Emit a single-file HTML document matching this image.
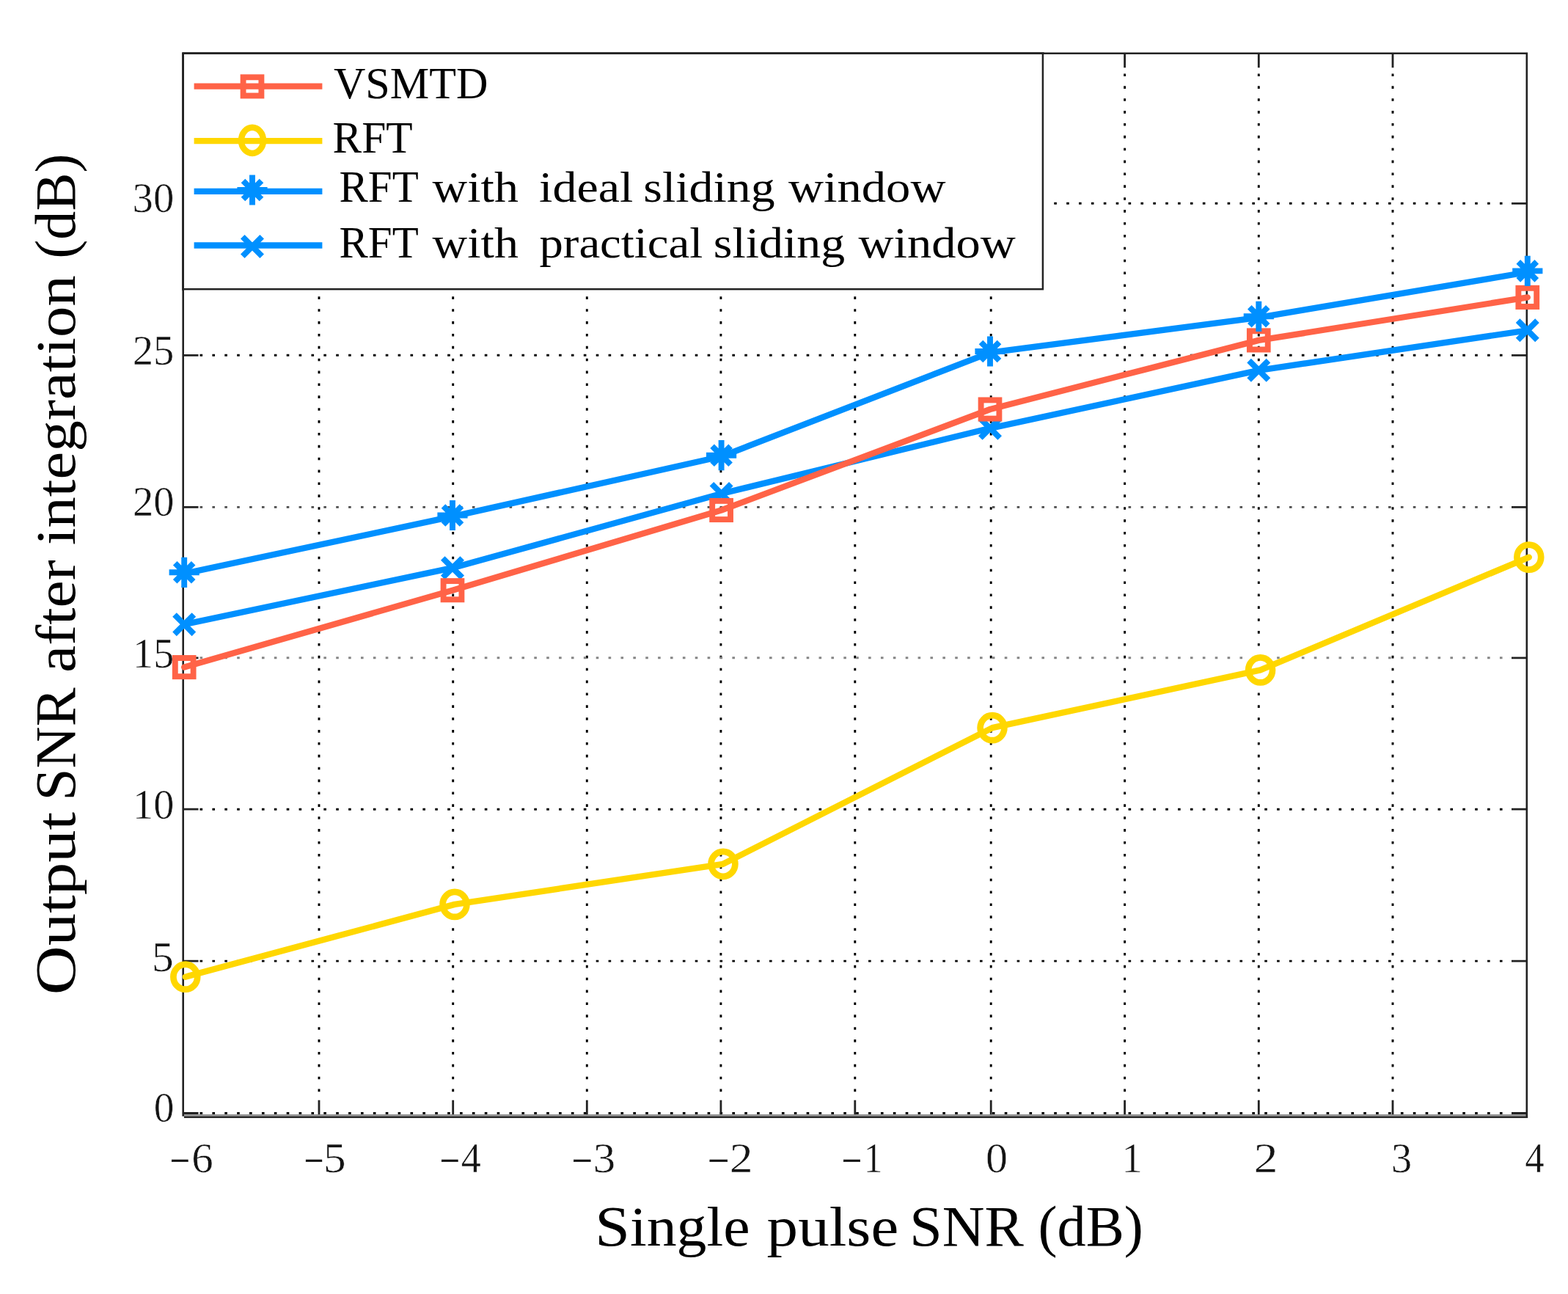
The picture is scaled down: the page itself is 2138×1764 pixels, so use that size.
<!DOCTYPE html>
<html lang="en"><head><meta charset="utf-8"><title>Figure</title>
<style>
html,body{margin:0;padding:0;background:#fff}
svg{display:block}
text{font-family:"Liberation Serif","DejaVu Serif",serif;font-kerning:none;fill:#1a1a1a}
.tk{fill:#141414;stroke:#fff;stroke-width:0.5px;paint-order:fill stroke}.lg,.ti{fill:#000}
.tk .mn{stroke:#141414;stroke-width:.5px}
.tk{font-size:56.3px}.lg{font-size:62.3px}.ti{font-size:79px}
.g{stroke:#000000;stroke-width:2.9;stroke-dasharray:3.6 13.28;fill:none}
.ax{stroke:#222222;stroke-width:2.6;fill:none}
.r{stroke:#ff6347}.y{stroke:#ffd700}.b{stroke:#0090ff}
.ln{fill:none;stroke-width:8.35;stroke-linejoin:round;stroke-linecap:round}
.mk{fill:none;stroke-width:7.9;stroke-linecap:butt;stroke-linejoin:miter}
</style></head><body>
<svg width="2138" height="1764" viewBox="0 0 2138 1764" style="filter:blur(0.6px)">
<rect x="-20" y="-20" width="2178" height="1804" fill="#fff"/>
<defs>
<g id="ms"><rect x="-12.4" y="-12.6" width="24.8" height="25.2"/></g>
<g id="mo"><ellipse rx="16.4" ry="17" style="stroke-width:8.7px"/></g>
<g id="ml"><ellipse rx="15" ry="17.6" style="stroke-width:8.4px"/></g>
<path id="mx" d="M-13.2 -13.2L13.2 13.2M-13.2 13.2L13.2 -13.2"/>
<path id="ma" d="M-20.6 0H20.6M0 -20.6V20.6M-12.5 -12.5L12.5 12.5M-12.5 12.5L12.5 -12.5"/>
</defs>
<g class="g">
<line x1="435" y1="1497" x2="435" y2="93.3" stroke-dashoffset="8.08"/>
<line x1="617.7" y1="1497" x2="617.7" y2="93.3" stroke-dashoffset="8.08"/>
<line x1="800.3" y1="1497" x2="800.3" y2="93.3" stroke-dashoffset="8.08"/>
<line x1="982.9" y1="1497" x2="982.9" y2="93.3" stroke-dashoffset="8.08"/>
<line x1="1165.8" y1="1497" x2="1165.8" y2="93.3" stroke-dashoffset="8.08"/>
<line x1="1351.2" y1="1497" x2="1351.2" y2="93.3" stroke-dashoffset="8.08"/>
<line x1="1533.6" y1="1497" x2="1533.6" y2="93.3" stroke-dashoffset="8.08"/>
<line x1="1716.3" y1="1497" x2="1716.3" y2="93.3" stroke-dashoffset="8.08"/>
<line x1="1899" y1="1497" x2="1899" y2="93.3" stroke-dashoffset="8.08"/>
<line x1="271.2" y1="1517.5" x2="2061.3" y2="1517.5" stroke-dashoffset="15.53"/>
<line x1="271.2" y1="1310.1" x2="2061.3" y2="1310.1" stroke-dashoffset="15.53"/>
<line x1="271.2" y1="1103.2" x2="2061.3" y2="1103.2" stroke-dashoffset="15.53"/>
<line x1="271.2" y1="896.8" x2="2061.3" y2="896.8" stroke="#858585" stroke-dashoffset="15.53"/>
<line x1="271.2" y1="691.4" x2="2061.3" y2="691.4" stroke="#4d4d4d" stroke-dashoffset="15.53"/>
<line x1="271.2" y1="484.3" x2="2061.3" y2="484.3" stroke-dashoffset="15.53"/>
<line x1="1429.9" y1="277.3" x2="2061.3" y2="277.3" stroke-dashoffset="9.51"/>
</g>
<rect x="251" y="1519.1" width="1832.1" height="2.9" fill="#909090"/>
<rect x="251" y="1521.9" width="1832.1" height="2.2" fill="#222222"/>
<g class="ax">
<path d="M249.7 1521.8V71.5M2081.8 1524.1V71.5M249.7 72.8H2081.8"/>
<path d="M435 72.8v19.5M435 1519.2v-19.5M617.7 72.8v19.5M617.7 1519.2v-19.5M800.3 72.8v19.5M800.3 1519.2v-19.5M982.9 72.8v19.5M982.9 1519.2v-19.5M1165.8 72.8v19.5M1165.8 1519.2v-19.5M1351.2 72.8v19.5M1351.2 1519.2v-19.5M1533.6 72.8v19.5M1533.6 1519.2v-19.5M1716.3 72.8v19.5M1716.3 1519.2v-19.5M1899 72.8v19.5M1899 1519.2v-19.5M249.7 1517.5h20.8M2081.8 1517.5h-20.8M249.7 1310.1h20.8M2081.8 1310.1h-20.8M249.7 1103.2h20.8M2081.8 1103.2h-20.8M249.7 896.8h20.8M2081.8 896.8h-20.8M249.7 691.4h20.8M2081.8 691.4h-20.8M249.7 484.3h20.8M2081.8 484.3h-20.8M249.7 277.3h20.8M2081.8 277.3h-20.8" stroke-width="2.8"/>
</g>
<text class="tk"><tspan class="mn" x="231.81" y="1601.3" textLength="27.03" lengthAdjust="spacingAndGlyphs">−</tspan><tspan x="261.17" y="1598" textLength="29.49" lengthAdjust="spacingAndGlyphs">6</tspan></text>
<text class="tk"><tspan class="mn" x="414.86" y="1601.3" textLength="26.54" lengthAdjust="spacingAndGlyphs">−</tspan><tspan x="440.94" y="1598" textLength="30.66" lengthAdjust="spacingAndGlyphs">5</tspan></text>
<text class="tk"><tspan class="mn" x="599.81" y="1601.3" textLength="27.03" lengthAdjust="spacingAndGlyphs">−</tspan><tspan x="628.84" y="1598" textLength="27.11" lengthAdjust="spacingAndGlyphs">4</tspan></text>
<text class="tk"><tspan class="mn" x="779.74" y="1601.3" textLength="27.88" lengthAdjust="spacingAndGlyphs">−</tspan><tspan x="808.88" y="1598" textLength="30.5" lengthAdjust="spacingAndGlyphs">3</tspan></text>
<text class="tk"><tspan class="mn" x="965.33" y="1601.3" textLength="29.09" lengthAdjust="spacingAndGlyphs">−</tspan><tspan x="994.7" y="1598" textLength="31.81" lengthAdjust="spacingAndGlyphs">2</tspan></text>
<text class="tk"><tspan class="mn" x="1147.78" y="1601.3" textLength="27.39" lengthAdjust="spacingAndGlyphs">−</tspan><tspan x="1177.71" y="1598" textLength="25.56" lengthAdjust="spacingAndGlyphs">1</tspan></text>
<text class="tk"><tspan x="1344.01" y="1598" textLength="30.08" lengthAdjust="spacingAndGlyphs">0</tspan></text>
<text class="tk"><tspan x="1529.53" y="1598" textLength="28.26" lengthAdjust="spacingAndGlyphs">1</tspan></text>
<text class="tk"><tspan x="1709.6" y="1598" textLength="33.05" lengthAdjust="spacingAndGlyphs">2</tspan></text>
<text class="tk"><tspan x="1897" y="1598" textLength="28.2" lengthAdjust="spacingAndGlyphs">3</tspan></text>
<text class="tk"><tspan x="2079.17" y="1598" textLength="26.46" lengthAdjust="spacingAndGlyphs">4</tspan></text>
<text class="tk"><tspan x="180.58" y="289" textLength="56.78" lengthAdjust="spacingAndGlyphs">30</tspan></text>
<text class="tk"><tspan x="180.81" y="496.7" textLength="56.6" lengthAdjust="spacingAndGlyphs">25</tspan></text>
<text class="tk"><tspan x="180.92" y="703.3" textLength="56.54" lengthAdjust="spacingAndGlyphs">20</tspan></text>
<text class="tk"><tspan x="181.07" y="909.6" textLength="56.13" lengthAdjust="spacingAndGlyphs">15</tspan></text>
<text class="tk"><tspan x="181.04" y="1116" textLength="56.41" lengthAdjust="spacingAndGlyphs">10</tspan></text>
<text class="tk"><tspan x="207.14" y="1324.3" textLength="29.79" lengthAdjust="spacingAndGlyphs">5</tspan></text>
<text class="tk"><tspan x="209.69" y="1528.9" textLength="27.72" lengthAdjust="spacingAndGlyphs">0</tspan></text>
<g class="y">
<polyline class="ln" points="252.8,1331.7 620,1232.9 986,1177.8 1353,992.2 1718.6,913.4 2084.8,759.6"/>
<g class="mk"><use href="#mo" x="252.8" y="1331.7"/><use href="#mo" x="620" y="1232.9"/><use href="#mo" x="986" y="1177.8"/><use href="#mo" x="1353" y="992.2"/><use href="#mo" x="1718.6" y="913.4"/><use href="#mo" x="2084.8" y="759.6"/></g>
</g>
<g class="b">
<polyline class="ln" points="251.2,851.2 617,774.2 983.6,673 1350,583.8 1716.3,504.8 2082.8,450.3"/>
<g class="mk"><use href="#mx" x="251.2" y="851.2"/><use href="#mx" x="617" y="774.2"/><use href="#mx" x="983.6" y="673"/><use href="#mx" x="1350" y="583.8"/><use href="#mx" x="1716.3" y="504.8"/><use href="#mx" x="2082.8" y="450.3"/></g>
</g>
<g class="r">
<polyline class="ln" points="251.2,909.6 617,804.7 983.6,695.5 1350,558 1716.3,463.9 2082.8,405.4"/>
<g class="mk"><use href="#ms" x="251.2" y="909.6"/><use href="#ms" x="617" y="804.7"/><use href="#ms" x="983.6" y="695.5"/><use href="#ms" x="1350" y="558"/><use href="#ms" x="1716.3" y="463.9"/><use href="#ms" x="2082.8" y="405.4"/></g>
</g>
<g class="b">
<polyline class="ln" points="251.2,781.9 617,704.1 983.6,622.3 1350,480.6 1716.3,432.9 2082.8,371"/>
<g class="mk"><use href="#ma" x="251.2" y="780.3"/><use href="#ma" x="617" y="702.5"/><use href="#ma" x="983.6" y="620.7"/><use href="#ma" x="1350" y="479"/><use href="#ma" x="1716.3" y="431.3"/><use href="#ma" x="2082.8" y="369.4"/></g>
</g>
<rect x="249.7" y="72.8" width="1172.2" height="321.4" fill="#fff" stroke="#222222" stroke-width="2.5"/>
<path class="ax" d="M249.7 396.2V71.5M249.7 72.8H1423.9"/>
<g class="r"><line class="ln" style="stroke-linecap:butt" x1="264.6" y1="117.6" x2="439.4" y2="117.6"/><use class="mk" href="#ms" x="344" y="117.9"/></g>
<g class="y"><line class="ln" style="stroke-linecap:butt" x1="264.6" y1="192.1" x2="439.4" y2="192.1"/><use class="mk" href="#ml" x="344" y="191.4"/></g>
<g class="b"><line class="ln" style="stroke-linecap:butt" x1="264.6" y1="260.9" x2="439.4" y2="260.9"/><use class="mk" href="#ma" x="344" y="259"/></g>
<g class="b"><line class="ln" style="stroke-linecap:butt" x1="264.6" y1="334.5" x2="439.4" y2="334.5"/><use class="mk" href="#mx" x="344" y="336"/></g>
<text class="lg"><tspan x="454.92" y="134.1" textLength="210.69" lengthAdjust="spacingAndGlyphs">VSMTD</tspan></text>
<text class="lg"><tspan x="453.59" y="207.9" textLength="109" lengthAdjust="spacingAndGlyphs">RFT</tspan></text>
<text class="lg"><tspan x="462.5" y="275" textLength="108.18" lengthAdjust="spacingAndGlyphs">RFT</tspan> <tspan font-size="59.5" x="589.64" y="275" textLength="117.23" lengthAdjust="spacingAndGlyphs">with</tspan> <tspan font-size="59.5" x="735.11" y="275" textLength="128.21" lengthAdjust="spacingAndGlyphs">ideal</tspan> <tspan font-size="59.5" x="877.3" y="275" textLength="179.25" lengthAdjust="spacingAndGlyphs">sliding</tspan> <tspan font-size="59.5" x="1074.93" y="275" textLength="214.56" lengthAdjust="spacingAndGlyphs">window</tspan></text>
<text class="lg"><tspan x="462.5" y="351.3" textLength="108.18" lengthAdjust="spacingAndGlyphs">RFT</tspan> <tspan font-size="59.5" x="589.64" y="351.3" textLength="117.23" lengthAdjust="spacingAndGlyphs">with</tspan> <tspan font-size="59.5" x="735.46" y="351.3" textLength="222.84" lengthAdjust="spacingAndGlyphs">practical</tspan> <tspan font-size="59.5" x="972.8" y="351.3" textLength="179.25" lengthAdjust="spacingAndGlyphs">sliding</tspan> <tspan font-size="59.5" x="1170.54" y="351.3" textLength="214.36" lengthAdjust="spacingAndGlyphs">window</tspan></text>
<text class="ti"><tspan x="811.27" y="1698" textLength="47.65" lengthAdjust="spacingAndGlyphs">S</tspan><tspan font-size="75.44" x="858.92" y="1698" textLength="163.62" lengthAdjust="spacingAndGlyphs">ingle</tspan> <tspan font-size="75.44" x="1045.63" y="1698" textLength="179.62" lengthAdjust="spacingAndGlyphs">pulse</tspan> <tspan x="1240.35" y="1698" textLength="155.46" lengthAdjust="spacingAndGlyphs">SNR</tspan> <tspan x="1415.56" y="1698" textLength="143.37" lengthAdjust="spacingAndGlyphs">(dB)</tspan></text>
<text class="ti" transform="translate(101.5 1352.4) rotate(-90)"><tspan x="-3.81" y="0" textLength="67.08" lengthAdjust="spacingAndGlyphs">O</tspan><tspan font-size="75.44" x="63.27" y="0" textLength="182.35" lengthAdjust="spacingAndGlyphs">utput</tspan> <tspan x="261.01" y="0" textLength="153.8" lengthAdjust="spacingAndGlyphs">SNR</tspan> <tspan font-size="75.44" x="435.45" y="0" textLength="153.69" lengthAdjust="spacingAndGlyphs">after</tspan> <tspan font-size="75.44" x="609.12" y="0" textLength="368.17" lengthAdjust="spacingAndGlyphs">integration</tspan> <tspan x="999.77" y="0" textLength="143.16" lengthAdjust="spacingAndGlyphs">(dB)</tspan></text>
</svg>
</body></html>
